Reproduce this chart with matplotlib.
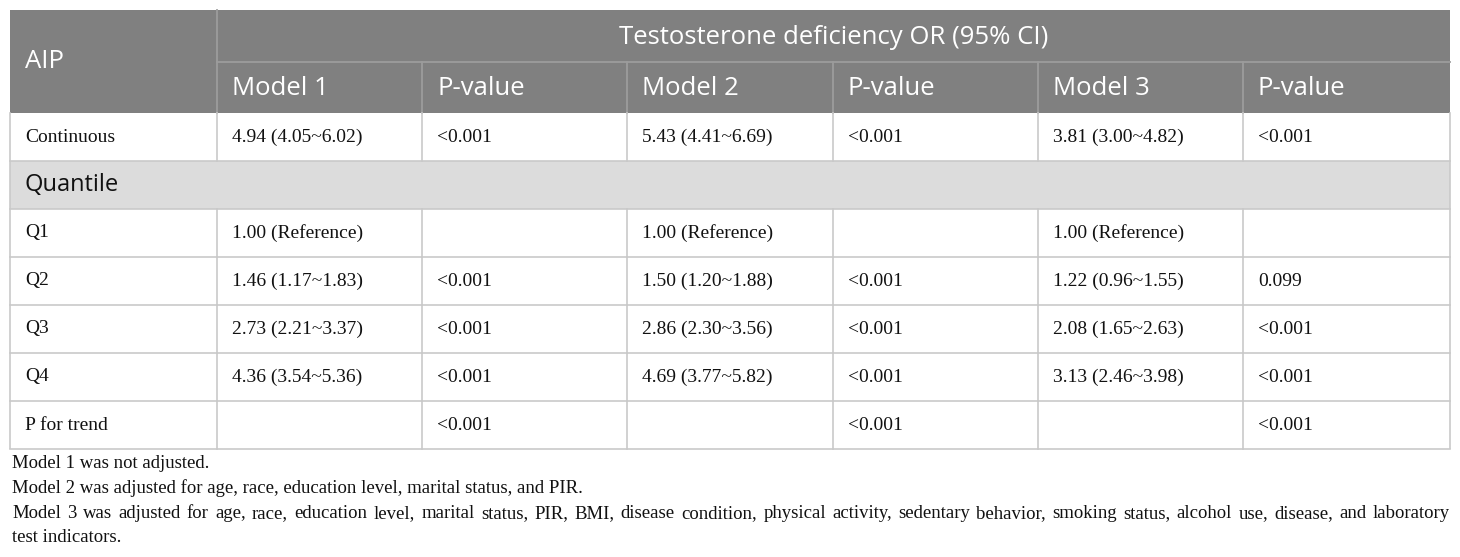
import matplotlib
matplotlib.use("Agg")
import matplotlib.pyplot as plt
from matplotlib.patches import Rectangle

row_labels = ["Continuous", "Quantile", "Q1", "Q2", "Q3", "Q4", "P for trend"]
model1_or = ["4.94 (4.05~6.02)", None, "1.00 (Reference)", "1.46 (1.17~1.83)",
             "2.73 (2.21~3.37)", "4.36 (3.54~5.36)", ""]
model1_p = ["<0.001", None, "", "<0.001", "<0.001", "<0.001", "<0.001"]
model2_or = ["5.43 (4.41~6.69)", None, "1.00 (Reference)", "1.50 (1.20~1.88)",
             "2.86 (2.30~3.56)", "4.69 (3.77~5.82)", ""]
model2_p = ["<0.001", None, "", "<0.001", "<0.001", "<0.001", "<0.001"]
model3_or = ["3.81 (3.00~4.82)", None, "1.00 (Reference)", "1.22 (0.96~1.55)",
             "2.08 (1.65~2.63)", "3.13 (2.46~3.98)", ""]
model3_p = ["<0.001", None, "", "0.099", "<0.001", "<0.001", "<0.001"]

col_headers = ["Model 1", "P-value", "Model 2", "P-value", "Model 3", "P-value"]
group_header = "Testosterone deficiency OR (95% CI)"
first_header = "AIP"
notes = [
    "Model 1 was not adjusted.",
    "Model 2 was adjusted for age, race, education level, marital status, and PIR.",
    "Model 3 was adjusted for age, race, education level, marital status, PIR, BMI, disease condition, "
    "physical activity, sedentary behavior, smoking status, alcohol use, disease, and laboratory",
    "test indicators.",
]

W, H = 1460, 557
fig = plt.figure(figsize=(W / 100, H / 100), dpi=100)
ax = fig.add_axes([0, 0, 1, 1])
ax.set_xlim(0, W)
ax.set_ylim(H, 0)
ax.axis("off")

xs = [10, 217, 422, 627, 833, 1038, 1243, 1450]
head_top, head_mid, head_bot = 10, 62, 113
row_h = 48
n_rows = len(row_labels)
table_bot = head_bot + row_h * n_rows - 1

hdr_col = "#808080"
hdr_line = "#9c9c9c"
grid = "#c9c9c9"
sans = "Open Sans"
serif = "Liberation Serif"
pad = 15
body_fs = 14
hdr_fs = 18.5

# header block
ax.add_patch(Rectangle((xs[0], head_top), xs[-1] - xs[0], head_bot - head_top,
                       facecolor=hdr_col, edgecolor="none"))
ax.plot([xs[1], xs[-1]], [head_mid, head_mid], color=hdr_line, lw=1.3)
ax.plot([xs[1], xs[1]], [head_top, head_bot], color=hdr_line, lw=1.3)
for x in xs[2:-1]:
    ax.plot([x, x], [head_mid, head_bot], color=hdr_line, lw=1.3)

ax.text(xs[0] + pad, (head_top + head_bot) / 2, first_header, color="white",
        fontsize=hdr_fs, family=sans, va="center", ha="left")
ax.text((xs[1] + xs[-1]) / 2, (head_top + head_mid) / 2 + 1, group_header, color="white",
        fontsize=hdr_fs, family=sans, va="center", ha="center")
for i, h in enumerate(col_headers):
    ax.text(xs[i + 1] + pad, (head_mid + head_bot) / 2 + 1, h, color="white",
            fontsize=hdr_fs, family=sans, va="center", ha="left")

# body rows
cols = [model1_or, model1_p, model2_or, model2_p, model3_or, model3_p]
for r, lab in enumerate(row_labels):
    y0 = head_bot + r * row_h
    yc = y0 + row_h / 2
    if cols[0][r] is None:
        ax.add_patch(Rectangle((xs[0], y0), xs[-1] - xs[0], row_h,
                               facecolor="#dcdcdc", edgecolor="none"))
        ax.text(xs[0] + pad, yc, lab, fontsize=17, family=sans, va="center",
                ha="left", color="#111111")
    else:
        ax.text(xs[0] + pad, yc, lab, fontsize=body_fs, family=serif, va="center",
                ha="left", color="#111111")
        for c, vals in enumerate(cols):
            ax.text(xs[c + 1] + pad, yc, vals[r], fontsize=body_fs, family=serif,
                    va="center", ha="left", color="#111111")
        for x in xs[1:-1]:
            ax.plot([x, x], [y0, y0 + row_h], color=grid, lw=1.2)
    ax.plot([xs[0], xs[-1]], [y0 + row_h, y0 + row_h], color=grid, lw=1.2)

ax.plot([xs[0], xs[0]], [head_bot, table_bot], color=grid, lw=1.2)
ax.plot([xs[-1], xs[-1]], [head_bot, table_bot], color=grid, lw=1.2)

# footnotes
note_fs = 13.5
note_y = [464, 488, 514, 538]
fig.canvas.draw()
renderer = fig.canvas.get_renderer()
for i, (t, y) in enumerate(zip(notes, note_y)):
    if i == 2:
        # justified line
        words = t.split(" ")
        arts = [ax.text(0, y, w, fontsize=note_fs, family=serif, va="center",
                        ha="left", color="#111111") for w in words]
        widths = [a.get_window_extent(renderer).width for a in arts]
        gap = (xs[-1] - 12 - sum(widths)) / (len(words) - 1)
        x = 12
        for a, w in zip(arts, widths):
            a.set_x(x)
            x += w + gap
    else:
        ax.text(12, y, t, fontsize=note_fs, family=serif, va="center", ha="left",
                color="#111111")

fig.savefig("out.png", dpi=100)
